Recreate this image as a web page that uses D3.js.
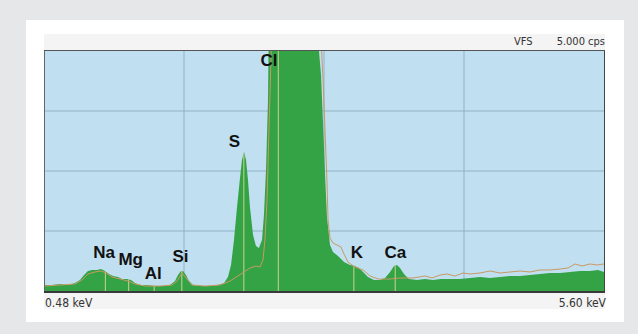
<!DOCTYPE html>
<html>
<head>
<meta charset="utf-8">
<script src="https://cdn.jsdelivr.net/npm/d3@7"></script>
<style>
    body { margin: 0; background: #e6e7e9; }
    svg { display: block; }
</style>
</head>
<body>
<svg id="chart"></svg>
<script>
// energy (keV) and counts (cps) for the sample spectrum (green)
let sampleKeV = [0.480, 0.553, 0.626, 0.699, 0.763, 0.809, 0.846, 0.882, 0.919, 0.965,
    1.001, 1.038, 1.074, 1.111, 1.157, 1.193, 1.239, 1.275, 1.312, 1.358,
    1.422, 1.495, 1.568, 1.632, 1.678, 1.705, 1.733, 1.751, 1.778, 1.806,
    1.842, 1.906, 1.998, 2.071, 2.126, 2.162, 2.190, 2.217, 2.245, 2.272,
    2.290, 2.309, 2.327, 2.345, 2.363, 2.391, 2.418, 2.445, 2.473, 2.491,
    2.510, 2.528, 2.537, 2.565, 2.620, 2.729, 2.866, 2.967, 2.994, 3.013,
    3.031, 3.049, 3.067, 3.095, 3.122, 3.168, 3.223, 3.278, 3.323, 3.360,
    3.397, 3.442, 3.497, 3.552, 3.598, 3.644, 3.680, 3.707, 3.735, 3.771,
    3.817, 3.890, 3.963, 4.036, 4.110, 4.192, 4.283, 4.375, 4.466, 4.558,
    4.649, 4.741, 4.832, 4.923, 5.015, 5.106, 5.198, 5.289, 5.381, 5.472,
    5.545, 5.600]
let sampleCps = [0.125, 0.125, 0.146, 0.125, 0.167, 0.229, 0.333, 0.417, 0.438, 0.438,
    0.458, 0.417, 0.354, 0.313, 0.292, 0.250, 0.250, 0.229, 0.167, 0.125,
    0.125, 0.104, 0.104, 0.125, 0.208, 0.333, 0.417, 0.417, 0.333, 0.208,
    0.125, 0.104, 0.104, 0.125, 0.167, 0.292, 0.542, 1.063, 1.750, 2.354,
    2.729, 2.896, 2.729, 2.313, 1.750, 1.167, 0.938, 0.896, 1.063, 1.583,
    2.521, 3.979, 5.800, 7.500, 9.000, 8.500, 7.500, 6.000, 5.000, 4.500,
    3.500, 2.458, 1.542, 0.958, 0.813, 0.729, 0.604, 0.542, 0.521, 0.479,
    0.396, 0.292, 0.229, 0.229, 0.271, 0.396, 0.521, 0.542, 0.479, 0.354,
    0.250, 0.229, 0.250, 0.229, 0.250, 0.250, 0.250, 0.271, 0.292, 0.271,
    0.292, 0.313, 0.313, 0.333, 0.354, 0.375, 0.375, 0.396, 0.417, 0.417,
    0.438, 0.396]

// reference spectrum (tan line)
let refKeV = [0.480, 0.626, 0.763, 0.827, 0.882, 0.946, 1.001, 1.047, 1.102, 1.175,
    1.248, 1.312, 1.403, 1.541, 1.650, 1.696, 1.742, 1.787, 1.833, 1.952,
    2.089, 2.181, 2.254, 2.309, 2.363, 2.418, 2.455, 2.482, 2.500, 2.519,
    2.537, 2.555, 2.574, 2.700, 2.850, 3.003, 3.022, 3.031, 3.049, 3.067,
    3.077, 3.095, 3.122, 3.159, 3.195, 3.223, 3.259, 3.323, 3.397, 3.461,
    3.534, 3.644, 3.735, 3.854, 3.963, 4.027, 4.101, 4.164, 4.237, 4.311,
    4.375, 4.466, 4.558, 4.649, 4.741, 4.832, 4.923, 5.015, 5.106, 5.198,
    5.271, 5.335, 5.399, 5.472, 5.536, 5.600]
let refCps = [0.104, 0.125, 0.146, 0.229, 0.354, 0.396, 0.417, 0.375, 0.292, 0.250,
    0.208, 0.146, 0.104, 0.104, 0.125, 0.208, 0.375, 0.250, 0.125, 0.104,
    0.125, 0.208, 0.313, 0.396, 0.479, 0.521, 0.500, 0.646, 1.063, 1.896,
    3.354, 4.810, 6.500, 8.000, 7.500, 6.000, 4.810, 4.400, 3.354, 2.313,
    1.479, 1.104, 1.000, 0.958, 0.917, 0.771, 0.604, 0.500, 0.438, 0.313,
    0.250, 0.250, 0.271, 0.271, 0.313, 0.271, 0.333, 0.354, 0.313, 0.375,
    0.354, 0.375, 0.417, 0.375, 0.396, 0.417, 0.396, 0.438, 0.438, 0.458,
    0.479, 0.563, 0.521, 0.563, 0.542, 0.563]

// element K-alpha lines
let elements = ["Na", "Mg", "Al", "Si", "S", "Cl", "K", "Ca"]
let elementKeV = [1.041, 1.254, 1.487, 1.740, 2.307, 2.622, 3.313, 3.691]
// label anchor: energy of left edge, cps of baseline
let labelKeV = [0.930, 1.160, 1.400, 1.655, 2.168, 2.460, 3.285, 3.592]
let labelCps = [0.688, 0.542, 0.250, 0.604, 3.000, 4.690, 0.688, 0.688]

let xGrid = [1.76, 3.04, 4.32]
let yGrid = [1.25, 2.5, 3.75]

let W = 638, H = 334
let plotLeft = 44, plotRight = 604, plotTop = 51, plotBottom = 291

let svg = d3.select("#chart").attr("width", W).attr("height", H)

// card + panel
svg.append("rect").attr("x", 26).attr("y", 20).attr("width", 598).attr("height", 302).attr("fill", "#fff")
svg.append("rect").attr("x", 44).attr("y", 34).attr("width", 561).attr("height", 275).attr("fill", "#f4f4f4")

let x = d3.scaleLinear().domain([0.48, 5.60]).range([plotLeft, plotRight])
let y = d3.scaleLinear().domain([0, 5]).range([plotBottom, plotTop])

let defs = svg.append("defs")
defs.append("clipPath").attr("id", "plot-clip")
    .append("rect").attr("x", plotLeft).attr("y", plotTop)
    .attr("width", plotRight - plotLeft).attr("height", plotBottom - plotTop)

svg.append("rect")
    .attr("x", plotLeft).attr("y", plotTop)
    .attr("width", plotRight - plotLeft).attr("height", plotBottom - plotTop)
    .attr("fill", "#c0dff0")

let g = svg.append("g").attr("clip-path", "url(#plot-clip)")

g.append("g").selectAll("line").data(xGrid).join("line")
    .attr("x1", d => x(d)).attr("x2", d => x(d))
    .attr("y1", plotTop).attr("y2", plotBottom)
    .attr("stroke", "#8fb2c6").attr("stroke-width", 1)
g.append("g").selectAll("line").data(yGrid).join("line")
    .attr("x1", plotLeft).attr("x2", plotRight)
    .attr("y1", d => y(d)).attr("y2", d => y(d))
    .attr("stroke", "#8fb2c6").attr("stroke-width", 1.2)

let sample = sampleKeV.map((e, i) => [e, sampleCps[i]])
let ref = refKeV.map((e, i) => [e, refCps[i]])

let area = d3.area().x(d => x(d[0])).y0(y(0)).y1(d => y(d[1]))
let line = d3.line().x(d => x(d[0])).y(d => y(d[1]))

g.append("path").datum(sample).attr("d", area).attr("fill", "#33a346")

// marker lines, only visible inside the green fill
defs.append("clipPath").attr("id", "fill-clip")
    .append("path").datum(sample).attr("d", area)
g.append("g").attr("clip-path", "url(#fill-clip)")
    .selectAll("line").data(elementKeV).join("line")
    .attr("x1", d => x(d)).attr("x2", d => x(d))
    .attr("y1", plotTop).attr("y2", plotBottom)
    .attr("stroke", "#cbd38c").attr("stroke-width", 1)

g.append("path").datum(ref).attr("d", line)
    .attr("fill", "none").attr("stroke", "#c99a62").attr("stroke-width", 1)

// frame
svg.append("line").attr("x1", plotLeft).attr("x2", plotRight + 1).attr("y1", plotTop - 0.5).attr("y2", plotTop - 0.5)
    .attr("stroke", "#555").attr("stroke-width", 1)
svg.append("line").attr("x1", plotLeft + 0.5).attr("x2", plotLeft + 0.5).attr("y1", plotTop).attr("y2", plotBottom)
    .attr("stroke", "#666").attr("stroke-width", 1)
svg.append("line").attr("x1", plotRight + 0.5).attr("x2", plotRight + 0.5).attr("y1", plotTop).attr("y2", plotBottom)
    .attr("stroke", "#444").attr("stroke-width", 1)
svg.append("line").attr("x1", plotLeft).attr("x2", plotRight + 1).attr("y1", plotBottom + 1).attr("y2", plotBottom + 1)
    .attr("stroke", "#3a3a3a").attr("stroke-width", 2)

// element labels
svg.append("g").selectAll("text").data(elements).join("text")
    .attr("x", (d, i) => x(labelKeV[i]))
    .attr("y", (d, i) => y(labelCps[i]))
    .attr("font-family", "Liberation Sans, Arial, sans-serif")
    .attr("font-weight", "bold")
    .attr("font-size", 17)
    .attr("fill", "#111")
    .text(d => d)

// header and range labels
let small = "DejaVu Sans Condensed, DejaVu Sans, sans-serif"
svg.append("text").attr("x", 514).attr("y", 45).attr("font-family", small).attr("font-size", 11)
    .attr("fill", "#333").text("VFS")
svg.append("text").attr("x", 605).attr("y", 45).attr("text-anchor", "end").attr("font-family", small)
    .attr("font-size", 11).attr("fill", "#333").text("5.000 cps")
svg.append("text").attr("x", 45).attr("y", 307).attr("font-family", small).attr("font-size", 12)
    .attr("fill", "#333").text(x.domain()[0].toFixed(2) + " keV")
svg.append("text").attr("x", 606).attr("y", 307).attr("text-anchor", "end").attr("font-family", small)
    .attr("font-size", 12).attr("fill", "#333").text(x.domain()[1].toFixed(2) + " keV")
</script>
</body>
</html>
